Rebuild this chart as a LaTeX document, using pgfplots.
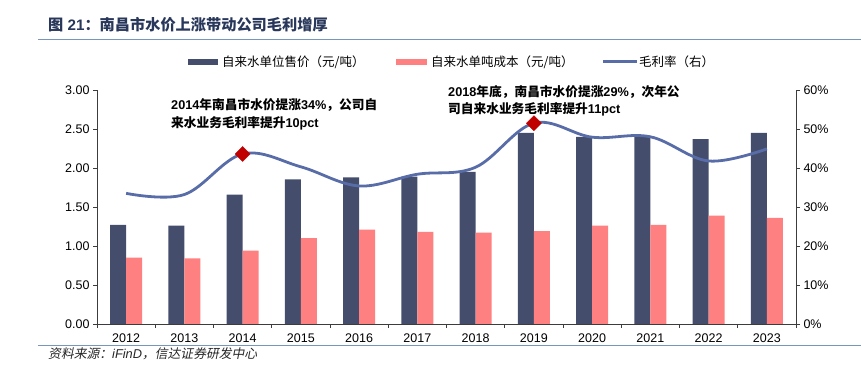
\documentclass[border=0pt]{standalone}
\usepackage{fontspec}
\usepackage{pgfplots}
\usepackage{pgfplotstable}
\pgfplotsset{compat=1.18}
\setmainfont{Liberation Sans}
\newfontfamily\cjk{Noto Sans CJK SC}
\newfontfamily\cjkit{Noto Sans CJK SC}[FakeSlant=0.2]
\definecolor{darkbar}{RGB}{68,78,108}
\definecolor{pinkbar}{RGB}{255,128,128}
\definecolor{linec}{RGB}{88,108,168}
\definecolor{mk}{RGB}{192,0,0}
\definecolor{titlec}{RGB}{40,55,90}
\definecolor{rulec}{RGB}{120,150,185}
\definecolor{axc}{RGB}{60,60,60}
\pgfplotstableread{
x dark pink m
0 1.27 0.85 33.5
1 1.26 0.84 33.2
2 1.66 0.94 43.6
3 1.855 1.10 40.3
4 1.88 1.21 35.4
5 1.89 1.18 38.4
6 1.95 1.17 40.2
7 2.45 1.19 51.5
8 2.40 1.26 47.9
9 2.41 1.27 48.0
10 2.37 1.39 41.8
11 2.45 1.36 44.9
}\data
\begin{document}
\begin{tikzpicture}
\path[use as bounding box] (0pt,0pt) rectangle (861pt,366pt);
\pgfplotsset{
  common/.style={
    at={(97pt,42pt)}, anchor=south west, scale only axis,
    width=699pt, height=234pt, xmin=-0.5, xmax=11.5,
    tick align=outside, major tick length=4pt,
    axis line style={-, draw=axc, line width=0.8pt},
    tick style={draw=axc, line width=0.8pt},
    tick label style={font=\fontsize{12.5}{14}\selectfont, text=black},
    /pgf/number format/assume math mode=true,
  }
}
\begin{axis}[common, ymin=0, ymax=3,
  ybar=0pt, bar width=16pt,
  axis x line*=bottom, axis y line*=left,
  xtick={-0.5,0.5,1.5,2.5,3.5,4.5,5.5,6.5,7.5,8.5,9.5,10.5,11.5}, xticklabels={},
  extra x ticks={0,1,2,3,4,5,6,7,8,9,10,11},
  extra x tick labels={2012,2013,2014,2015,2016,2017,2018,2019,2020,2021,2022,2023},
  extra x tick style={major tick length=0pt, xticklabel style={yshift=-6pt}},
  ytick={0,0.5,1,1.5,2,2.5,3},
  yticklabel style={/pgf/number format/.cd, fixed, fixed zerofill, precision=2},
]
\addplot[fill=darkbar, draw=none] table[x=x, y=dark]{\data};
\addplot[fill=pinkbar, draw=none] table[x=x, y=pink]{\data};
\end{axis}
\begin{axis}[common, ymin=0, ymax=60,
  axis y line*=right, axis x line=none,
  ytick={0,10,20,30,40,50,60},
  yticklabel={\pgfmathprintnumber{\tick}\%},
]
\addplot[smooth, tension=0.6, color=linec, line width=2.8pt] table[x=x, y=m]{\data};
\addplot[only marks, mark=square*, mark size=5.3pt, mark options={rotate=45, fill=mk, draw=mk}] coordinates {(2,43.6) (7,51.5)};
\end{axis}
% title and rules
\node[anchor=west, inner sep=0pt, text=titlec, font=\fontsize{15.2}{17}\selectfont\bfseries] at (48pt,341pt) {{\cjk 图} 21{\cjk ：南昌市水价上涨带动公司毛利增厚}};
\draw[rulec, line width=1.5pt] (38pt,326.5pt) -- (861pt,326.5pt);
\draw[rulec, line width=1.5pt] (38pt,20.3pt) -- (861pt,20.3pt);
\node[anchor=west, inner sep=0pt, font=\fontsize{12.8}{14}\selectfont\itshape, text=black!85] at (48pt,12pt) {{\cjkit 资料来源：}iFinD{\cjkit ，信达证券研发中心}};
% legend
\fill[darkbar] (188pt,301pt) rectangle (218pt,307pt);
\node[anchor=west, inner sep=0pt, font=\fontsize{12.5}{14}\selectfont] at (222pt,304pt) {\cjk 自来水单位售价（元/吨）};
\fill[pinkbar] (396pt,301pt) rectangle (427pt,307pt);
\node[anchor=west, inner sep=0pt, font=\fontsize{12.5}{14}\selectfont] at (431pt,304pt) {\cjk 自来水单吨成本（元/吨）};
\draw[linec, line width=3pt] (603pt,304pt) -- (637pt,304pt);
\node[anchor=west, inner sep=0pt, font=\fontsize{12.5}{14}\selectfont] at (639pt,304pt) {\cjk 毛利率（右）};
% annotations
\node[anchor=west, inner sep=0pt, font=\fontsize{12.7}{14}\selectfont\bfseries] at (171pt,261pt) {2014{\cjk 年南昌市水价提涨}34\%{\cjk ，公司自}};
\node[anchor=west, inner sep=0pt, font=\fontsize{12.7}{14}\selectfont\bfseries] at (171pt,243pt) {{\cjk 来水业务毛利率提升}10pct};
\node[anchor=west, inner sep=0pt, font=\fontsize{12.7}{14}\selectfont\bfseries] at (448pt,274pt) {2018{\cjk 年底，南昌市水价提涨}29\%{\cjk ，次年公}};
\node[anchor=west, inner sep=0pt, font=\fontsize{12.7}{14}\selectfont\bfseries] at (448pt,257pt) {{\cjk 司自来水业务毛利率提升}11pct};
\end{tikzpicture}
\end{document}
